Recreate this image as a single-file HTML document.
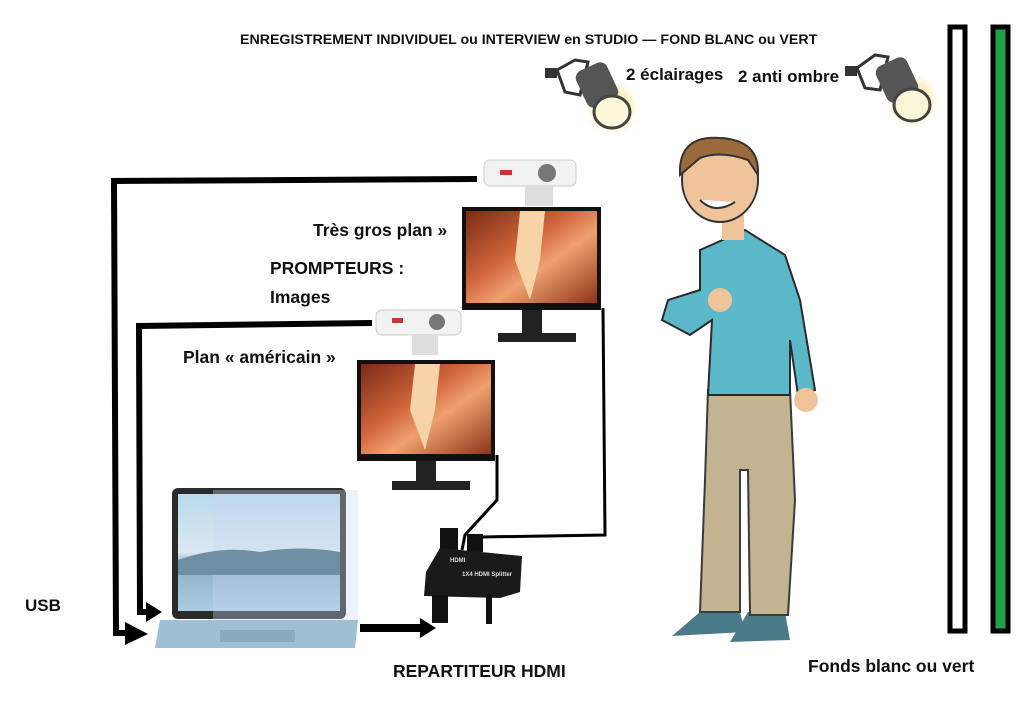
<!DOCTYPE html>
<html><head><meta charset="utf-8">
<style>
html,body{margin:0;padding:0;background:#fff;}
svg{display:block;}
text{font-family:"Liberation Sans",sans-serif;font-weight:bold;fill:#111;}
</style></head>
<body>
<svg width="1024" height="721" viewBox="0 0 1024 721" xmlns="http://www.w3.org/2000/svg">
<defs>
<linearGradient id="sky" x1="0" y1="0" x2="0" y2="1"><stop offset="0" stop-color="#b9d9ec"/><stop offset="0.5" stop-color="#dbe9f1"/><stop offset="0.6" stop-color="#8fb0c4"/><stop offset="1" stop-color="#a8cde0"/></linearGradient>
<linearGradient id="canyon" x1="0" y1="0" x2="1" y2="1"><stop offset="0" stop-color="#7a2a14"/><stop offset="0.4" stop-color="#d0653a"/><stop offset="0.6" stop-color="#f0a070"/><stop offset="1" stop-color="#8a3518"/></linearGradient>
<radialGradient id="glow"><stop offset="0" stop-color="#fff8d0"/><stop offset="0.6" stop-color="#fbe9a8" stop-opacity="0.7"/><stop offset="1" stop-color="#fff" stop-opacity="0"/></radialGradient>
</defs>

<text x="240" y="44" font-size="14.2">ENREGISTREMENT INDIVIDUEL ou INTERVIEW en STUDIO — FOND BLANC ou VERT</text>
<text x="626" y="80" font-size="17">2 éclairages</text>
<text x="738" y="82" font-size="17">2 anti ombre</text>

<g>
<circle cx="612" cy="108" r="30" fill="url(#glow)"/>
<rect x="545" y="68" width="12" height="10" fill="#333"/>
<path d="M557 70 L575 60 L588 62 L580 95 L565 92 Z" fill="none" stroke="#333" stroke-width="3"/>
<rect x="580" y="65" width="34" height="40" rx="8" fill="#555" transform="rotate(-25 597 85)"/>
<ellipse cx="612" cy="112" rx="18" ry="16" fill="#fdf7da" stroke="#444" stroke-width="3"/>
</g>
<g>
<circle cx="912" cy="100" r="30" fill="url(#glow)"/>
<rect x="845" y="66" width="12" height="10" fill="#333"/>
<path d="M857 68 L875 55 L888 57 L880 90 L865 88 Z" fill="none" stroke="#333" stroke-width="3"/>
<rect x="880" y="60" width="34" height="40" rx="8" fill="#555" transform="rotate(-25 897 80)"/>
<ellipse cx="912" cy="105" rx="18" ry="16" fill="#fdf7da" stroke="#444" stroke-width="3"/>
</g>

<rect x="950" y="27" width="15" height="604" fill="#fff" stroke="#000" stroke-width="5"/>
<rect x="993" y="27" width="15" height="604" fill="#1fa34a" stroke="#000" stroke-width="5"/>

<polyline points="477,179 114,181 116,633 130,633" fill="none" stroke="#000" stroke-width="6"/>
<polygon points="125,622 148,634 125,645" fill="#000"/>
<polyline points="372,323 139,326 140,612 150,612" fill="none" stroke="#000" stroke-width="6"/>
<polygon points="146,602 162,612 146,622" fill="#000"/>

<g>
<rect x="484" y="160" width="92" height="26" rx="6" fill="#f2f2f2" stroke="#ccc"/>
<circle cx="547" cy="173" r="9" fill="#777"/>
<rect x="500" y="170" width="12" height="5" fill="#c33"/>
<rect x="525" y="186" width="28" height="20" fill="#ddd"/>
</g>
<rect x="462" y="207" width="139" height="103" fill="#111"/>
<rect x="466" y="211" width="131" height="92" fill="url(#canyon)"/>
<path d="M520 211 L545 211 L540 260 L530 300 L515 260 Z" fill="#f7d3a8"/>
<rect x="522" y="310" width="20" height="24" fill="#222"/>
<rect x="498" y="333" width="78" height="9" fill="#222"/>

<g>
<rect x="376" y="310" width="85" height="25" rx="6" fill="#f2f2f2" stroke="#ccc"/>
<circle cx="437" cy="322" r="8" fill="#777"/>
<rect x="392" y="318" width="11" height="5" fill="#c33"/>
<rect x="412" y="335" width="26" height="20" fill="#ddd"/>
</g>
<rect x="357" y="360" width="138" height="101" fill="#111"/>
<rect x="361" y="364" width="130" height="90" fill="url(#canyon)"/>
<path d="M415 364 L440 364 L435 410 L425 450 L410 410 Z" fill="#f7d3a8"/>
<rect x="416" y="461" width="20" height="22" fill="#222"/>
<rect x="392" y="481" width="78" height="9" fill="#222"/>

<polyline points="603,308 605,535 482,537 478,550" fill="none" stroke="#000" stroke-width="3"/>
<polyline points="497,455 497,500 465,535 462,550" fill="none" stroke="#000" stroke-width="3"/>

<rect x="172" y="488" width="174" height="131" rx="6" fill="#2a2a2a"/>
<rect x="178" y="494" width="162" height="117" fill="url(#sky)"/>
<rect x="213" y="490" width="145" height="130" fill="#c8d8f0" opacity="0.35"/>
<path d="M178 560 Q220 545 260 552 Q300 545 340 552 L340 575 L178 575 Z" fill="#6e8fa3"/>
<polygon points="160,620 358,620 355,648 155,648" fill="#9fc0d2"/>
<rect x="220" y="630" width="75" height="12" fill="#8aaabd"/>
<polygon points="360,624 420,624 420,618 436,628 420,638 420,632 360,632" fill="#000"/>

<rect x="440" y="528" width="18" height="22" fill="#111"/>
<rect x="467" y="534" width="16" height="18" fill="#111"/>
<polygon points="426,572 440,548 522,556 520,592 500,598 424,596" fill="#1a1a1a"/>
<text x="450" y="562" font-size="6" style="fill:#ddd">HDMI</text>
<text x="462" y="576" font-size="6" style="fill:#ddd">1X4 HDMI Splitter</text>
<rect x="432" y="595" width="16" height="28" fill="#111"/>
<rect x="486" y="594" width="6" height="30" fill="#111"/>

<g>
<path d="M700 612 L740 612 L745 632 L672 636 Z" fill="#4a7a88"/>
<path d="M748 612 L785 612 L790 640 L730 642 Z" fill="#4a7a88"/>
<path d="M708 390 L790 390 L795 500 L788 615 L750 615 L748 470 L740 470 L740 612 L700 612 L705 480 Z" fill="#c2b391" stroke="#3a3a3a" stroke-width="2"/>
<path d="M700 250 L745 230 L785 255 L800 300 L815 390 L798 395 L790 340 L790 395 L708 395 L712 320 L690 335 L662 320 L668 300 L700 290 Z" fill="#5bb8c8" stroke="#2a2a2a" stroke-width="2"/>
<circle cx="720" cy="300" r="12" fill="#f0c49a"/>
<circle cx="806" cy="400" r="12" fill="#f0c49a"/>
<rect x="722" y="215" width="22" height="25" fill="#f0c49a"/>
<ellipse cx="720" cy="180" rx="38" ry="42" fill="#f0c49a" stroke="#333" stroke-width="2"/>
<path d="M680 175 Q678 135 720 138 Q760 140 758 175 L748 160 Q720 150 700 158 Z" fill="#9a6a3a" stroke="#333" stroke-width="2"/>
<path d="M700 200 Q715 215 735 202" fill="#fff" stroke="#333" stroke-width="2"/>
</g>

<text x="313" y="236" font-size="17.5">Très gros plan »</text>
<text x="270" y="274" font-size="17.5">PROMPTEURS :</text>
<text x="270" y="303" font-size="17.5">Images</text>
<text x="183" y="363" font-size="17.5">Plan « américain »</text>
<text x="25" y="611" font-size="17">USB</text>
<text x="393" y="677" font-size="17.5">REPARTITEUR HDMI</text>
<text x="808" y="672" font-size="17.5">Fonds blanc ou vert</text>
</svg>
</body></html>
